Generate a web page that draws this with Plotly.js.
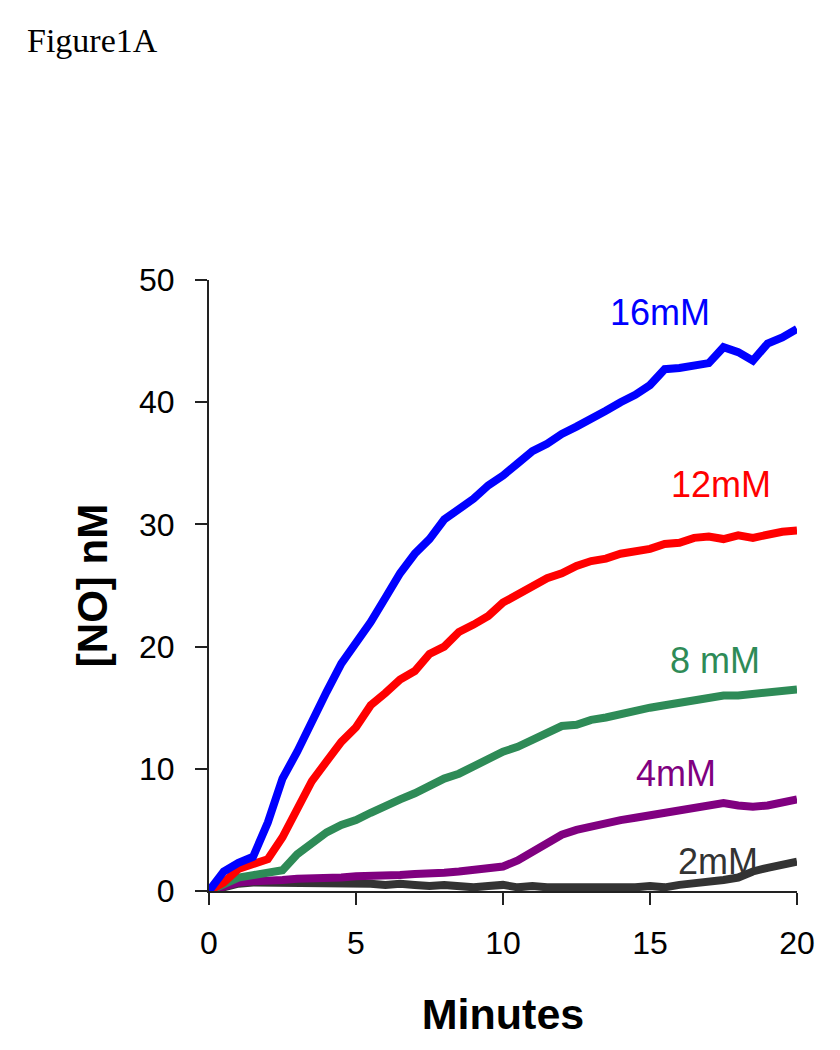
<!DOCTYPE html>
<html>
<head>
<meta charset="utf-8">
<script src="https://cdn.plot.ly/plotly-3.0.1.min.js"></script>
<style>
html,body{margin:0;padding:0;background:#fff;}
#chart{width:840px;height:1050px;}
</style>
</head>
<body>
<div id="chart"></div>
<script>
const minutes = [0,0.5,1,1.5,2,2.5,3,3.5,4,4.5,5,5.5,6,6.5,7,7.5,8,8.5,9,9.5,10,10.5,11,11.5,12,12.5,13,13.5,14,14.5,15,15.5,16,16.5,17,17.5,18,18.5,19,19.5,20];
const no16mM = [0,1.6,2.3,2.8,5.6,9.2,11.4,14.0,16.3,18.6,20.3,22.0,24.0,26.0,27.6,28.8,30.4,31.2,32.1,33.2,34.0,35.0,36.0,36.6,37.4,38.0,38.6,39.3,40.0,40.6,41.4,42.7,42.8,43.0,43.2,44.5,44.1,43.4,44.8,45.3,46.0];
const no12mM = [0,0.7,1.8,2.2,2.6,4.4,6.8,9.0,10.6,12.2,13.4,15.2,16.2,17.3,18.0,19.4,20.0,21.2,21.8,22.5,23.6,24.3,25.0,25.6,26.0,26.6,27.0,27.2,27.6,27.8,28.0,28.4,28.5,28.9,29.0,28.8,29.1,28.9,29.2,29.4,29.5];
const no8mM = [0,0.5,1.1,1.3,1.5,1.7,3.0,3.9,4.8,5.4,5.8,6.4,7.0,7.5,8.0,8.6,9.2,9.6,10.2,10.8,11.4,11.8,12.4,13.0,13.5,13.6,14.0,14.2,14.5,14.7,15.0,15.2,15.4,15.6,15.9,16.0,16.0,16.1,16.3,16.3,16.5];
const no4mM = [0,0.4,0.7,0.8,0.8,0.9,1.0,1.0,1.1,1.1,1.2,1.2,1.3,1.3,1.4,1.4,1.5,1.6,1.7,1.8,2.0,2.5,3.2,4.0,4.6,5.0,5.3,5.6,5.8,6.0,6.2,6.4,6.6,6.8,7.0,7.2,7.0,6.9,7.0,7.2,7.5];
const no2mM = [0,0.3,0.6,0.7,0.7,0.6,0.7,0.6,0.7,0.6,0.7,0.6,0.5,0.6,0.5,0.4,0.5,0.4,0.3,0.4,0.5,0.3,0.4,0.3,0.3,0.2,0.3,0.2,0.2,0.3,0.4,0.3,0.5,0.6,0.7,0.9,1.1,1.6,1.9,2.1,2.4];

const seriesNames = ["16mM","12mM","8 mM","4mM","2mM"];
const seriesColors = ["#0000ff","#ff0000","#2e8b57","#800080","#333333"];
const seriesData = [no16mM,no12mM,no8mM,no4mM,no2mM];
const labelX = [15.35,17.4,17.2,15.9,17.3];
const labelY = [47.3,33.3,18.9,9.65,2.4];
const xTicks = [0,5,10,15,20];
const yTicks = [0,10,20,30,40,50];

const traces = seriesData.slice().reverse().map((d,ri)=>{
  const i = seriesData.length-1-ri;
  return {x:minutes,y:d,type:'scatter',mode:'lines',name:seriesNames[i],
    line:{color:seriesColors[i],width:8},showlegend:false,hoverinfo:'skip'};
});

const annotations = seriesNames.map((n,i)=>({
  x:labelX[i],y:labelY[i],xref:'x',yref:'y',text:n,showarrow:false,
  font:{family:'Liberation Sans, Arial, sans-serif',size:36,color:seriesColors[i]}
}));
annotations.push({xref:'paper',yref:'paper',x:-0.313,y:1.392,xanchor:'left',yanchor:'middle',
  text:'Figure1A',showarrow:false,font:{family:'Liberation Serif, Times New Roman, serif',size:34,color:'#000'}});

const layout = {
  width:840,height:1050,
  margin:{l:209,r:43,t:280,b:159},
  paper_bgcolor:'#fff',plot_bgcolor:'#fff',
  xaxis:{range:[0,20],tickvals:xTicks,ticktext:xTicks.map(String),ticks:'outside',ticklen:12,tickwidth:2,tickcolor:'#222',
    showline:true,linecolor:'#222',linewidth:2,showgrid:false,zeroline:false,
    tickfont:{family:'Liberation Sans, Arial, sans-serif',size:32,color:'#000'},ticklabelstandoff:11,
    title:{text:'<b>Minutes</b>',font:{family:'Liberation Sans, Arial, sans-serif',size:43,color:'#000'},standoff:38}},
  xaxis2:{overlaying:'x',side:'top',range:[0,20],showline:true,linecolor:'#aaaaaa',linewidth:2,ticks:'',showticklabels:false,showgrid:false,zeroline:false},
  yaxis:{range:[0,50],tickvals:yTicks,ticktext:yTicks.map(String),ticks:'outside',ticklen:12,tickwidth:2,tickcolor:'#222',
    showline:true,linecolor:'#222',linewidth:2,showgrid:false,zeroline:false,
    tickfont:{family:'Liberation Sans, Arial, sans-serif',size:32,color:'#000'},ticklabelstandoff:14,
    title:{text:'<b>[NO] nM</b>',font:{family:'Liberation Sans, Arial, sans-serif',size:42,color:'#000'},standoff:18}},
  yaxis2:{overlaying:'y',side:'left',range:[0,50],tickvals:yTicks,ticks:'inside',ticklen:11,tickwidth:2,tickcolor:'#222',
    showline:true,mirror:true,linecolor:'#333',linewidth:2,showticklabels:false,showgrid:false,zeroline:false},
  annotations:annotations
};

Plotly.newPlot('chart',traces,layout,{staticPlot:true,displayModeBar:false});
</script>
</body>
</html>
